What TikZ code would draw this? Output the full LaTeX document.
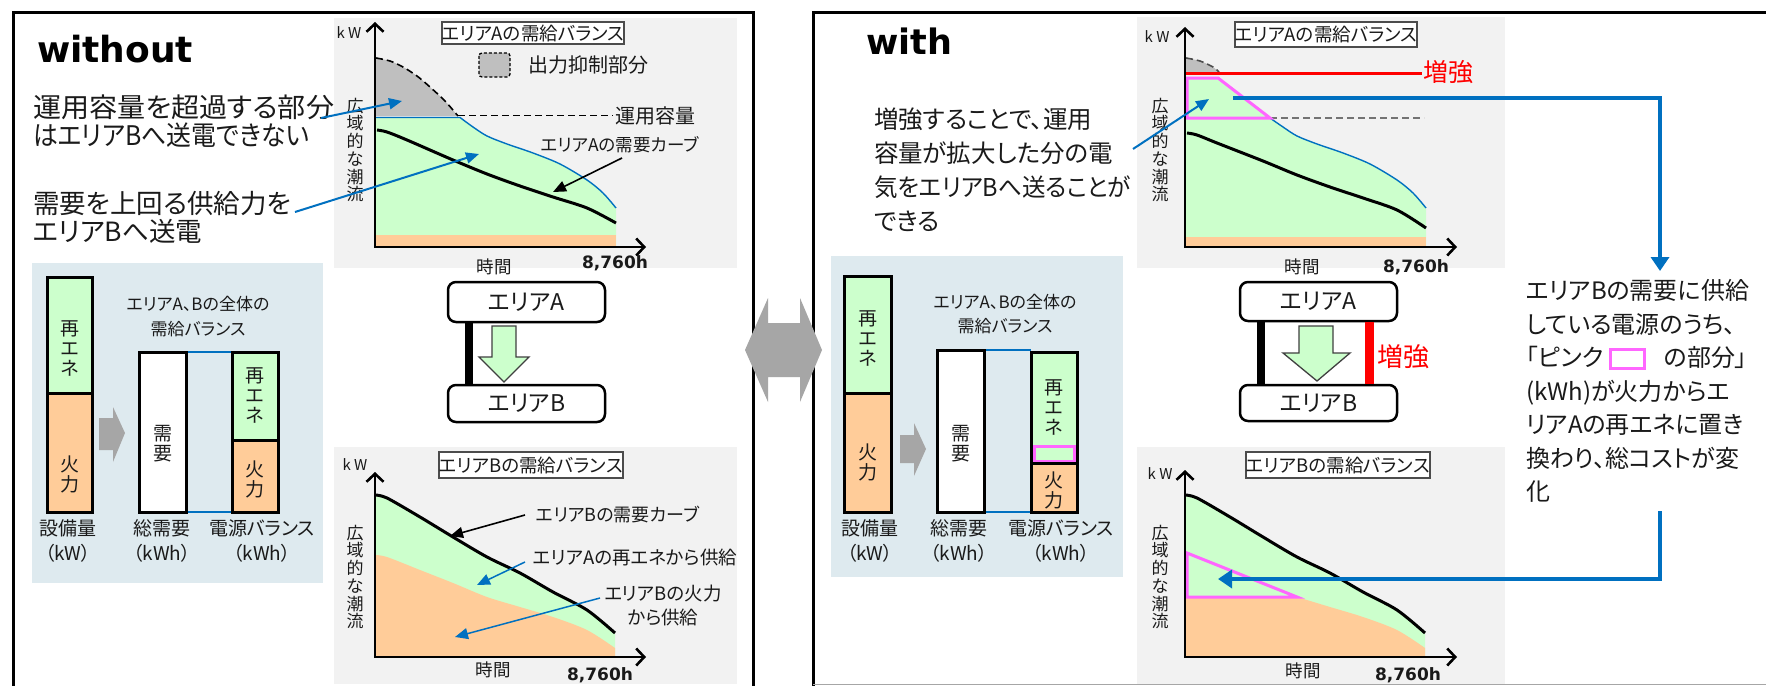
\documentclass[tikz,border=0pt]{standalone}
\usepackage{fontspec}
\usepackage{graphicx}
\setmainfont{Noto Sans CJK JP}[RawFeature={+palt}]
\newfontfamily\latb{DejaVu Sans}
\usetikzlibrary{arrows.meta}
\definecolor{cgreen}{HTML}{CCFFCC}
\definecolor{corange}{HTML}{FFCC99}
\definecolor{cbg}{HTML}{F2F2F2}
\definecolor{cbluebg}{HTML}{DEEAEF}
\definecolor{cblue}{HTML}{0070C0}
\definecolor{cpink}{HTML}{FF66FF}
\definecolor{cgray}{HTML}{A6A6A6}
\definecolor{csup}{HTML}{BFBFBF}
\definecolor{ctxt}{HTML}{1A1A1A}
\newcommand{\myfs}[2]{\fontsize{#1}{#2}\selectfont}
\tikzset{
  txt/.style={inner sep=0pt, outer sep=0pt, text=ctxt},
  frame/.style={line width=3pt, black},
  axes/.style={line width=2.6pt, {Straight Barb[length=8pt,width=17pt]}-{Straight Barb[length=8pt,width=17pt]}},
  callout/.style={draw=cblue, line width=2pt, -{Triangle[length=13pt,width=11pt]}},
  bigblue/.style={draw=cblue, line width=4.5pt, -{Triangle[length=14pt,width=18pt]}},
  blackarr/.style={draw=black, line width=1.6pt, -{Triangle[length=13pt,width=11pt]}},
  barbox/.style={draw=black, line width=3pt},
  titlebox/.style={draw=black!70, line width=1.5pt, fill=white, inner sep=0pt, font=\myfs{18.5}{18.5}, text=ctxt},
  areabox/.style={draw=black, line width=2.5pt, rounded corners=8pt, fill=white, minimum width=157pt, font=\myfs{23}{23}, text=ctxt},
  vtxt/.style={txt, align=center, font=\myfs{17}{17.7}},
  lbl/.style={txt, font=\myfs{17.5}{24}, align=center},
  hrs/.style={txt, font=\latb\bfseries\myfs{17}{17}},
  barlbl/.style={txt, align=center, font=\myfs{19}{20}},
  undlbl/.style={txt, align=center, font=\myfs{19}{25}},
  garrow/.style={fill=cgray, draw=none},
  greenarrow/.style={fill=cgreen, draw=black!75, line width=1.3pt, line join=miter},
}
\begin{document}
\begin{tikzpicture}[x=1pt,y=-1pt]
\useasboundingbox (0,0) rectangle (1766,685);
\fill[white] (0,0) rectangle (1766,685);

% ---------- backgrounds ----------
\fill[cbg] (334,18) rectangle (737,268);
\fill[cbg] (334,447) rectangle (737,684);
\fill[cbluebg] (32,263) rectangle (323,583);
\fill[cbg] (1137,17) rectangle (1505,268);
\fill[cbg] (1137,447) rectangle (1505,684);
\fill[cbluebg] (831,256) rectangle (1123,577);

% ---------- frames ----------
\draw[frame] (13,690) -- (13,13) -- (753,13) -- (753,690);
\draw[frame] (813,690) -- (813,13) -- (1770,13);
\draw[black!35, line width=1pt] (813,684) -- (1766,684);

% ---------- titles ----------
\node[txt, anchor=base west, font=\latb\bfseries\myfs{36}{36}, text=black] (tw) at (37,63) {without};
\node[txt, anchor=base west, font=\latb\bfseries\myfs{35}{35}, text=black] (tw2) at (866,55) {with};

% ---------- left chart A ----------
\fill[csup] plot[smooth] coordinates {(376,58) (390,61) (403,67) (417,76) (430,87) (445,101) (458,116)} -- (376,116) -- cycle;
\fill[cgreen] (375,247) -- (375,117) -- (460,117) -- plot[smooth] coordinates {(460,117) (473,127) (487,136) (507,144) (533,153) (560,164) (587,180) (603,193) (616,208)} -- (616,247) -- cycle;
\fill[corange] (375,235) rectangle (616,247);
\draw[dash pattern=on 7pt off 4pt, line width=1.6pt] plot[smooth] coordinates {(376,58) (390,61) (403,67) (417,76) (430,87) (445,101) (458,116)};
\draw[dash pattern=on 7pt off 4pt, line width=1.6pt] (458,115.5) -- (613,115.5);
\draw[cblue, line width=1.4pt] (375,117.5) -- (460,117.5) -- plot[smooth] coordinates {(460,117.5) (473,127) (487,136) (507,144) (533,153) (560,164) (587,180) (603,193) (616,208)};
\draw[line width=3pt] plot[smooth] coordinates {(377,130) (387,132) (407,140) (453,160) (487,174) (520,186) (553,197) (587,208) (616,223)};
\draw[axes] (375,22) -- (375,247) -- (646,247);
\node[txt, font=\myfs{15}{15}] (kw1) at (349,33) {k W};
\node[titlebox, minimum width=180pt, minimum height=22pt] (ttA1) at (533,33) {エリアAの需給バランス};
\draw[fill=csup, dash pattern=on 3pt off 2pt, line width=1.3pt, rounded corners=3pt] (479,53) rectangle (510,77);
\node[txt, font=\myfs{20}{20}, anchor=west] (leg1) at (528,65) {出力抑制部分};
\node[txt, font=\myfs{20}{20}, anchor=west] (cap1) at (615,116) {運用容量};
\node[lbl, anchor=west] (dA1) at (541,145) {エリアAの需要カーブ};
\coordinate (dA1s) at (622,158);
\coordinate (dA1e) at (553,192);
\draw[blackarr] (dA1s) -- (dA1e);
\node[vtxt] (vA1) at (355,150) {広\\域\\的\\な\\潮\\流};
\node[lbl] (tA1) at (494,267) {時間};
\node[hrs] (hA1) at (615,263) {8,760h};

% ---------- left callouts ----------
\node[txt, anchor=west, align=left, font=\myfs{27}{28}] (c1) at (33,121) {\scalebox{1.04}[1]{運用容量を超過する部分}\\\scalebox{0.92}[1]{はエリアBへ送電できない}};
\node[txt, anchor=west, align=left, font=\myfs{26.5}{28}] (c2) at (33,217) {需要を上回る供給力を\\エリアBへ送電};
\coordinate (c1s) at (321,118);
\coordinate (c1e) at (402,101);
\coordinate (c2s) at (295,212);
\coordinate (c2e) at (479,154);
\draw[callout] (c1s) -- (c1e);
\draw[callout] (c2s) -- (c2e);

% ---------- left bars ----------
\fill[cgreen] (47,277) rectangle (92,393);
\fill[corange] (47,393) rectangle (92,512);
\draw[barbox] (47,393) -- (92,393);
\draw[barbox] (47,277) rectangle (92,512);
\node[barlbl] (b11) at (69.5,348) {再\\エ\\ネ};
\node[barlbl] (b12) at (69.5,474) {火\\力};
\draw[garrow] (99,418) -- (113,418) -- (113,407) -- (125,433) -- (113,462) -- (113,450) -- (99,450) -- cycle;
\node[txt, align=center, font=\myfs{17}{25}] (bt1) at (198,317) {エリアA、Bの全体の\\需給バランス};
\draw[cblue, line width=1.2pt] (186,352) -- (232,352);
\draw[cblue, line width=1.2pt] (186,512) -- (232,512);
\draw[barbox, fill=white] (139,352) rectangle (186,512);
\node[barlbl] (b21) at (162.5,444) {需\\要};
\fill[cgreen] (232,352) rectangle (278,440);
\fill[corange] (232,440) rectangle (278,512);
\draw[barbox] (232,440) -- (278,440);
\draw[barbox] (232,352) rectangle (278,512);
\node[barlbl] (b31) at (255,395) {再\\エ\\ネ};
\node[barlbl] (b32) at (255,479) {火\\力};
\node[undlbl] (u1) at (68,541) {設備量\\（kW）};
\node[undlbl] (u2) at (162,541) {総需要\\（kWh）};
\node[undlbl] (u3) at (262,541) {電源バランス\\（kWh）};

% ---------- left area boxes ----------
\node[areabox, minimum height=40pt] (aA1) at (526.5,302) {エリアA};
\node[areabox, minimum height=37pt] (aB1) at (526.5,403.5) {エリアB};
\draw[line width=8pt] ([xshift=-57.5pt]aA1.south) -- ([xshift=-57.5pt]aB1.north);
\draw[greenarrow] (492,326) -- (516,326) -- (516,357) -- (529,357) -- (504,382) -- (479,357) -- (492,357) -- cycle;

% ---------- left chart B ----------
\fill[cgreen] (375,657) -- (375,495) -- plot[smooth] coordinates {(375,495) (387,498) (420,517) (453,537) (487,557) (520,573) (553,592) (587,610) (615,633)} -- (615,657) -- cycle;
\fill[corange] (375,657) -- (375,555) -- plot[smooth] coordinates {(375,555) (387,557) (420,570) (453,583) (487,597) (520,607) (553,617) (587,630) (615,648)} -- (615,657) -- cycle;
\draw[line width=3pt] plot[smooth] coordinates {(375,495) (387,498) (420,517) (453,537) (487,557) (520,573) (553,592) (587,610) (615,633)};
\draw[axes] (375,472) -- (375,657) -- (646,657);
\node[txt, font=\myfs{15}{15}] (kw2) at (355,465) {k W};
\node[titlebox, minimum width=184pt, minimum height=26pt] (ttB1) at (531,465) {エリアBの需給バランス};
\node[vtxt] (vB1) at (355,577) {広\\域\\的\\な\\潮\\流};
\node[lbl, anchor=west, font=\myfs{18}{24}] (dB1) at (536,515) {エリアBの需要カーブ};
\node[lbl, anchor=west, font=\myfs{18.5}{24}] (rB1) at (533,557) {エリアAの再エネから供給};
\node[lbl, font=\myfs{18.5}{24}] (fB1) at (663,605) {エリアBの火力\\から供給};
\coordinate (dB1s) at (525,515);
\coordinate (dB1e) at (450,536);
\draw[blackarr] (dB1s) -- (dB1e);
\coordinate (rB1s) at (525,562);
\coordinate (rB1e) at (477,585);
\draw[callout, line width=1.5pt] (rB1s) -- (rB1e);
\coordinate (fB1s) at (600,598);
\coordinate (fB1e) at (455,637);
\draw[callout, line width=1.5pt] (fB1s) -- (fB1e);
\node[lbl] (tB1) at (493,670) {時間};
\node[hrs] (hB1) at (600,675) {8,760h};

% ---------- centre double arrow ----------
\fill[cgray] (745,350) -- (768,298) -- (768,323) -- (800,323) -- (800,298) -- (822,350) -- (800,402) -- (800,377) -- (768,377) -- (768,402) -- cycle;

% ---------- right chart A ----------
\begin{scope}[xshift=810pt]
\fill[csup] plot[smooth] coordinates {(376,58) (390,61) (403,67) (409,73)} -- (376,73) -- cycle;
\draw[black!70, dash pattern=on 7pt off 4pt, line width=1.6pt] plot[smooth] coordinates {(376,58) (390,61) (403,67) (409,72)};
\fill[cgreen] (375,247) -- (375,78) -- (408,78) -- (460,118) -- plot[smooth] coordinates {(460,118) (473,127) (487,136) (507,144) (533,153) (560,164) (587,180) (603,193) (616,208)} -- (616,247) -- cycle;
\fill[corange] (375,237) rectangle (616,247);
\draw[red, line width=3pt] (375,73) -- (612,73);
\draw[black!55, dash pattern=on 7pt off 4pt, line width=1.6pt] (460,118) -- (614,118);
\draw[cblue, line width=1.4pt] plot[smooth] coordinates {(460,118) (473,127) (487,136) (507,144) (533,153) (560,164) (587,180) (603,193) (616,208)};
\draw[cpink, line width=3pt, line join=miter] (377,78) -- (408,78) -- (460,118) -- (377,118) -- cycle;
\draw[line width=3pt] plot[smooth] coordinates {(377,133) (387,135) (407,143) (453,161) (487,175) (520,187) (553,198) (587,210) (616,228)};
\draw[axes] (375,27) -- (375,247) -- (647,247);
\end{scope}
\node[txt, font=\myfs{15}{15}] (kw3) at (1157,37) {k W};
\node[titlebox, minimum width=182pt, minimum height=25pt] (ttA2) at (1326,34.5) {エリアAの需給バランス};
\node[txt, font=\myfs{25}{25}, text=red] (zk1) at (1448,72) {増強};
\node[vtxt] (vA2) at (1160,150) {広\\域\\的\\な\\潮\\流};
\node[lbl] (tA2) at (1302,267) {時間};
\node[hrs] (hA2) at (1416,267) {8,760h};

% ---------- right callout ----------
\node[txt, anchor=west, align=left, font=\myfs{24.5}{34}] (c3) at (874,170) {増強することで、運用\\容量が拡大した分の電\\\scalebox{0.96}[1]{気をエリアBへ送ることが}\\できる};
\coordinate (c3s) at (1133,149);
\coordinate (c3e) at (1209,99);
\draw[callout] (c3s) -- (c3e);

% ---------- right bars ----------
\fill[cgreen] (844,276) rectangle (891,393);
\fill[corange] (844,393) rectangle (891,512);
\draw[barbox] (844,393) -- (891,393);
\draw[barbox] (844,276) rectangle (891,512);
\node[barlbl] (b41) at (867.5,338) {再\\エ\\ネ};
\node[barlbl] (b42) at (867.5,462) {火\\力};
\draw[garrow] (900,435) -- (914,435) -- (914,423) -- (926,449) -- (914,476) -- (914,463) -- (900,463) -- cycle;
\node[txt, align=center, font=\myfs{17}{24}] (bt2) at (1005,314) {エリアA、Bの全体の\\需給バランス};
\draw[cblue, line width=1.2pt] (984,350) -- (1031,350);
\draw[cblue, line width=1.2pt] (984,512) -- (1031,512);
\draw[barbox, fill=white] (937,350) rectangle (984,512);
\node[barlbl] (b51) at (960.5,444) {需\\要};
\fill[cgreen] (1031,352) rectangle (1077,463);
\fill[corange] (1031,463) rectangle (1077,512);
\draw[cpink, line width=3pt] (1034,446) rectangle (1074,461);
\draw[barbox] (1031,463) -- (1077,463);
\draw[barbox] (1031,352) rectangle (1077,512);
\node[barlbl] (b61) at (1054,407) {再\\エ\\ネ};
\node[barlbl] (b62) at (1054,490) {火\\力};
\node[undlbl] (u4) at (870,541) {設備量\\（kW）};
\node[undlbl] (u5) at (959,541) {総需要\\（kWh）};
\node[undlbl] (u6) at (1061,541) {電源バランス\\（kWh）};

% ---------- right area boxes ----------
\node[areabox, minimum height=39pt] (aA2) at (1318.5,301.5) {エリアA};
\node[areabox, minimum height=36pt] (aB2) at (1318.5,403) {エリアB};
\draw[line width=8pt] ([xshift=-57.5pt]aA2.south) -- ([xshift=-57.5pt]aB2.north);
\draw[red, line width=9pt] ([xshift=51pt]aA2.south) -- ([xshift=51pt]aB2.north);
\node[txt, font=\myfs{26}{26}, text=red] (zk2) at (1403,357) {増強};
\draw[greenarrow] (1299,326) -- (1333,326) -- (1333,353) -- (1350,353) -- (1317,381) -- (1283,353) -- (1299,353) -- cycle;

% ---------- right chart B ----------
\begin{scope}[xshift=810pt]
\fill[cgreen] (375,657) -- (375,495) -- plot[smooth] coordinates {(375,495) (387,498) (420,517) (453,537) (487,557) (520,573) (553,592) (587,610) (615,633)} -- (615,657) -- cycle;
\fill[corange] (375,657) -- (375,597) -- (487,597) -- plot[smooth] coordinates {(487,597) (520,607) (553,617) (587,630) (615,648)} -- (615,657) -- cycle;
\draw[cpink, line width=3pt, line join=miter] (377,553) -- (487,597) -- (377,597) -- cycle;
\draw[line width=3pt] plot[smooth] coordinates {(375,495) (387,498) (420,517) (453,537) (487,557) (520,573) (553,592) (587,610) (615,633)};
\draw[axes] (375,470) -- (375,657) -- (647,657);
\end{scope}
\node[txt, font=\myfs{15}{15}] (kw4) at (1160,474) {k W};
\node[titlebox, minimum width=184pt, minimum height=26pt] (ttB2) at (1338,465) {エリアBの需給バランス};
\node[vtxt] (vB2) at (1160,577) {広\\域\\的\\な\\潮\\流};
\node[lbl] (tB2) at (1303,671) {時間};
\node[hrs] (hB2) at (1408,675) {8,760h};

% ---------- right description ----------
\node[txt, anchor=west, align=left, font=\myfs{24}{33.5}] (desc) at (1526,391) {%
エリアBの需要に供給\\
している電源のうち、\\
「ピンク\hspace{6pt}{\setlength\fboxrule{3pt}\setlength\fboxsep{0pt}\fcolorbox{cpink}{white}{\rule{0pt}{16pt}\rule{31pt}{0pt}}}\hspace{18pt}の部分」\\
(kWh)が火力からエ\\
リアAの再エネに置き\\
換わり、総コストが変\\
化};

% ---------- big blue connectors ----------
\coordinate (bb1) at (1233,98);
\coordinate (bb2) at (1660,98);
\coordinate (bb3) at (1660,271);
\draw[bigblue] (bb1) -- (bb2) -- (bb3);
\coordinate (bb4) at (1660,511);
\coordinate (bb5) at (1660,579);
\coordinate (bb6) at (1218,579);
\draw[bigblue] (bb4) -- (bb5) -- (bb6);
\end{tikzpicture}
\end{document}
